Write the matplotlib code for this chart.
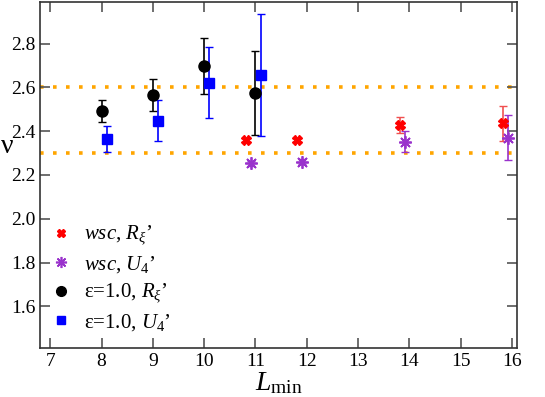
import matplotlib
matplotlib.use("Agg")
import matplotlib.pyplot as plt
from matplotlib.lines import Line2D

plt.rcParams['font.family'] = ['Liberation Serif', 'DejaVu Serif']
plt.rcParams['mathtext.fontset'] = 'custom'
plt.rcParams['mathtext.rm'] = 'Liberation Serif'
plt.rcParams['mathtext.it'] = 'Liberation Serif:italic'

# data
wsc_R_x = [10.82, 11.81, 13.81, 15.82]
wsc_R_y = [2.358, 2.360, 2.428, 2.436]
wsc_R_err = [0.010, 0.010, 0.038, 0.079]

wsc_U_x = [10.91, 11.90, 13.91, 15.93]
wsc_U_y = [2.253, 2.260, 2.351, 2.370]
wsc_U_err = [0.012, 0.012, 0.048, 0.103]

eps_R_x = [8.0, 9.0, 10.0, 11.0]
eps_R_y = [2.493, 2.565, 2.697, 2.576]
eps_R_err = [0.050, 0.074, 0.128, 0.192]

eps_U_x = [8.1, 9.1, 10.1, 11.1]
eps_U_y = [2.365, 2.447, 2.622, 2.655]
eps_U_err = [0.060, 0.094, 0.163, 0.278]

ref_lines = [2.6, 2.3]

labels = [r"$wsc$, $R_{\xi}$’", r"$wsc$, $U_4$’", r"ε=1.0, $R_{\xi}$’", r"ε=1.0, $U_4$’"]

purple = '#9932cc'
star = (8, 2, 0)

fig = plt.figure(figsize=(5.45, 3.97), dpi=100)
ax = fig.add_axes([0.0734, 0.1234, 0.8752, 0.8716])

for yv in ref_lines:
    ax.axhline(yv, color='orange', linestyle=(0, (1, 2.6)), linewidth=2.6, zorder=1)

ax.errorbar(wsc_R_x, wsc_R_y, yerr=wsc_R_err, fmt='X', color='red', ecolor='#f05050',
            markersize=6.5, capsize=3, elinewidth=1.2)
ax.errorbar(wsc_U_x, wsc_U_y, yerr=wsc_U_err, fmt='none', ecolor=purple,
            capsize=3, elinewidth=1.2)
ax.plot(wsc_U_x, wsc_U_y, linestyle='none', marker=star, color=purple,
        markersize=9, markeredgewidth=1.3)
ax.errorbar(eps_R_x, eps_R_y, yerr=eps_R_err, fmt='o', color='black',
            markersize=8, capsize=3, elinewidth=1.2)
ax.errorbar(eps_U_x, eps_U_y, yerr=eps_U_err, fmt='s', color='blue',
            markersize=7, capsize=3, elinewidth=1.2)

handles = [
    Line2D([], [], linestyle='none', marker='X', color='red', markersize=6),
    Line2D([], [], linestyle='none', marker=star, color=purple, markersize=8, markeredgewidth=1.2),
    Line2D([], [], linestyle='none', marker='o', color='black', markersize=7),
    Line2D([], [], linestyle='none', marker='s', color='blue', markersize=6),
]

ax.set_xlim(6.8, 16.1)
ax.set_ylim(1.41, 2.99)
ax.set_xticks(range(7, 17))
ax.set_yticks([1.6, 1.8, 2.0, 2.2, 2.4, 2.6, 2.8])
ax.set_yticklabels(['1.6', '1.8', '2.0', '2.2', '2.4', '2.6', '2.8'])
ax.tick_params(direction='in', top=True, right=True, length=7, width=1.2,
               labelsize=14, color='#555555')
for s in ax.spines.values():
    s.set_linewidth(1.2)
    s.set_color('#333333')

ax.set_xlabel(r"$L_{\mathrm{min}}$", fontsize=20, labelpad=0)
ax.set_ylabel("ν", fontsize=20, rotation=0)
ax.yaxis.set_label_coords(-0.068, 0.545)

ax.legend(handles, labels, loc='lower left', frameon=False, fontsize=15,
          handletextpad=0.6, handlelength=1.0, labelspacing=0.3,
          borderaxespad=0.0, bbox_to_anchor=(0.005, 0.02))

fig.savefig('out.png', dpi=100)
